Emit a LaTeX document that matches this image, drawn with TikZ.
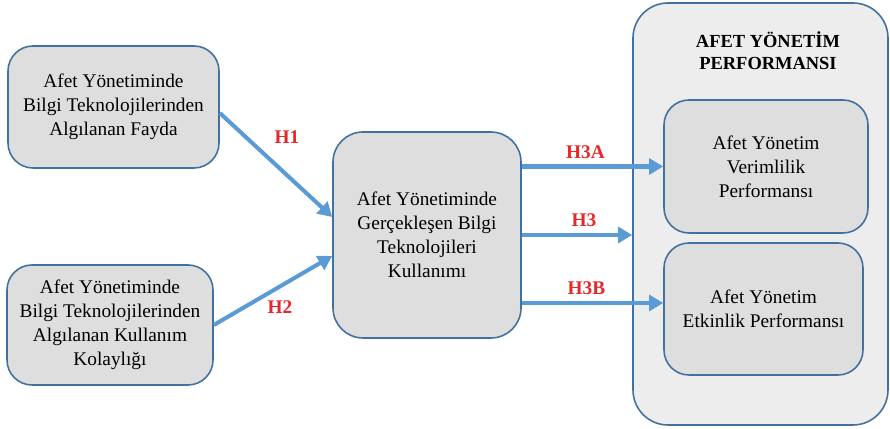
\documentclass[tikz,border=0pt]{standalone}
\usepackage{fontspec}
\setmainfont{Liberation Serif}
\usepackage{xcolor}
\usepackage{tikz}
\definecolor{boxedge}{HTML}{41719C}
\definecolor{boxfill}{HTML}{DFDEDE}
\definecolor{outerfill}{HTML}{EDEDED}
\definecolor{arrowblue}{HTML}{5B9BD5}
\definecolor{hypred}{HTML}{E5282A}
\usetikzlibrary{arrows.meta, positioning, calc}
\tikzset{
  factorbox/.style={draw=boxedge, fill=boxfill, line width=0.9pt, rounded corners=0.5cm,
    align=center, font=\fontsize{11}{13.6}\selectfont},
  hyparrow/.style={draw=arrowblue, line width=2.3pt, -{Triangle[width=9pt,length=8pt]}},
  hyplabel/.style={text=hypred, font=\fontsize{11}{13}\selectfont\bfseries}
}

\begin{document}
\begin{tikzpicture}
\useasboundingbox (0,0) rectangle (17.8,8.58);
% Draw the outer performance frame
\node[draw=boxedge, fill=outerfill, line width=0.9pt, rounded corners=0.7cm,
  minimum width=5.1cm, minimum height=8.44cm] (perf) at (15.21,4.30) {};
\node[align=center, font=\fontsize{10.5}{12.6}\selectfont\bfseries] (perftitle) at (15.36,7.56)
  {AFET YÖNETİM\\PERFORMANSI};
% Draw the factor boxes
\node[factorbox, minimum width=4.22cm, minimum height=2.44cm] (fayda) at (2.27,6.44)
  {Afet Yönetiminde\\Bilgi Teknolojilerinden\\Algılanan Fayda};
\node[factorbox, minimum width=4.12cm, minimum height=2.40cm] (kolay) at (2.20,2.08)
  {Afet Yönetiminde\\Bilgi Teknolojilerinden\\Algılanan Kullanım\\Kolaylığı};
\node[factorbox, rounded corners=0.6cm, minimum width=3.76cm, minimum height=4.12cm] (kullanim) at (8.54,3.88)
  {Afet Yönetiminde\\Gerçekleşen Bilgi\\Teknolojileri\\Kullanımı};
\node[factorbox, minimum width=4.08cm, minimum height=2.66cm] (verim) at (15.32,5.25)
  {Afet Yönetim\\Verimlilik\\Performansı};
\node[factorbox, minimum width=3.98cm, minimum height=2.64cm] (etkin) at (15.27,2.40)
  {Afet Yönetim\\Etkinlik Performansı};
% Draw the hypotheses
\draw[hyparrow] ([yshift=-0.12cm]fayda.east) -- ([yshift=0.36cm]kullanim.west)
  node[hyplabel, midway, xshift=0.22cm, yshift=0.55cm] {H1};
\draw[hyparrow] (kolay.east) -- ([yshift=-0.42cm]kullanim.west)
  node[hyplabel, midway, xshift=0.14cm, yshift=-0.33cm] {H2};
\draw[hyparrow] (kullanim.east |- verim.west) -- (verim.west)
  node[hyplabel, midway, above, xshift=-0.14cm] {H3A};
\draw[hyparrow] (kullanim.east) -- (kullanim.east -| perf.west)
  node[hyplabel, midway, above, xshift=0.14cm] {H3};
\draw[hyparrow] ([yshift=0.12cm]kullanim.east |- etkin.west) -- ([yshift=0.12cm]etkin.west)
  node[hyplabel, midway, above, xshift=-0.12cm] {H3B};
\end{tikzpicture}
\end{document}
